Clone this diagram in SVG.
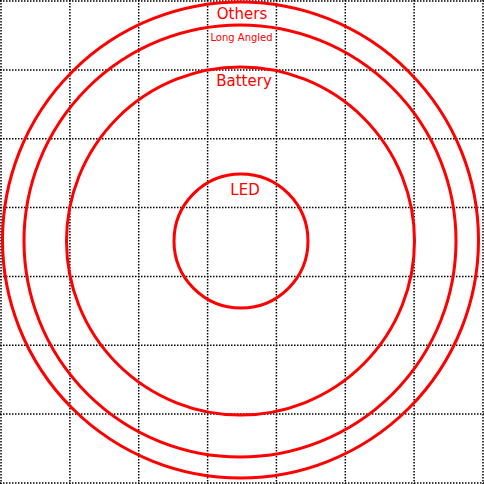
<svg xmlns="http://www.w3.org/2000/svg" width="484" height="484" viewBox="0 0 484 484">
<style>
.grid{stroke:#000;stroke-width:1.5;stroke-dasharray:1.5,1.5;fill:none}
.ring{fill:none;stroke:#f00;stroke-width:3}
.lbl{fill:#f00;font-family:"DejaVu Sans",Verdana,sans-serif;text-anchor:middle}
</style>
<rect width="484" height="484" fill="#fff"/>
<g id="grid" class="grid">
<line x1="1" y1="0" x2="1" y2="484"/>
<line x1="69.9" y1="0" x2="69.9" y2="484"/>
<line x1="138.7" y1="0" x2="138.7" y2="484"/>
<line x1="207.6" y1="0" x2="207.6" y2="484"/>
<line x1="276.4" y1="0" x2="276.4" y2="484"/>
<line x1="345.3" y1="0" x2="345.3" y2="484"/>
<line x1="414.1" y1="0" x2="414.1" y2="484"/>
<line x1="483" y1="0" x2="483" y2="484"/>
<line x1="0" y1="1" x2="484" y2="1"/>
<line x1="0" y1="69.9" x2="484" y2="69.9"/>
<line x1="0" y1="138.7" x2="484" y2="138.7"/>
<line x1="0" y1="207.6" x2="484" y2="207.6"/>
<line x1="0" y1="276.4" x2="484" y2="276.4"/>
<line x1="0" y1="345.3" x2="484" y2="345.3"/>
<line x1="0" y1="414.1" x2="484" y2="414.1"/>
<line x1="0" y1="483" x2="484" y2="483"/>
</g>
<g id="others">
<circle class="ring" cx="240.5" cy="240" r="238"/>
<text class="lbl" x="242" y="19" font-size="15">Others</text>
</g>
<g id="long-angled">
<circle class="ring" cx="240" cy="241" r="216"/>
<text class="lbl" x="241.5" y="41" font-size="10">Long Angled</text>
</g>
<g id="battery">
<circle class="ring" cx="240.5" cy="241" r="174"/>
<text class="lbl" x="244" y="86" font-size="15">Battery</text>
</g>
<g id="led">
<circle class="ring" cx="241" cy="241" r="67"/>
<text class="lbl" x="245" y="195" font-size="15">LED</text>
</g>
</svg>
